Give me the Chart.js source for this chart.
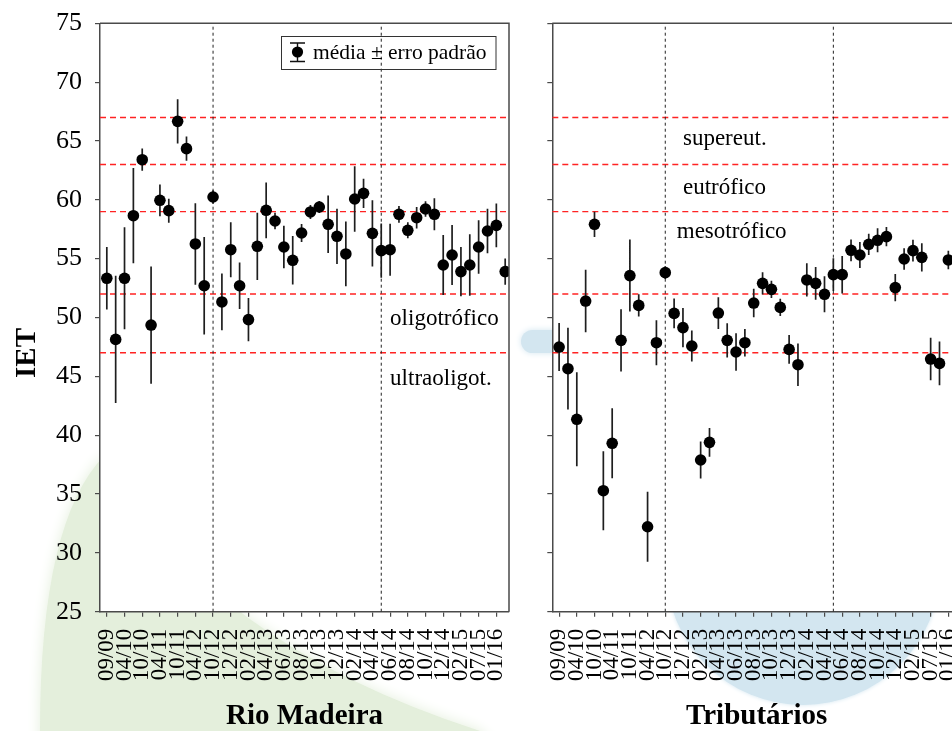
<!DOCTYPE html>
<html>
<head>
<meta charset="utf-8">
<script src="https://cdn.jsdelivr.net/npm/chart.js@4.4.1/dist/chart.umd.min.js"></script>
<style>
  html, body { margin: 0; padding: 0; background: #fff; overflow: hidden; width: 952px; height: 731px; }
  #wrap { position: relative; width: 952px; height: 731px; overflow: hidden; }
  #wrap canvas { position: absolute; top: 0; }
</style>
</head>
<body>
<div id="wrap">
  <canvas id="bg" width="952" height="731" style="left:0"></canvas>
  <canvas id="madeira" width="530" height="731" style="left:0"></canvas>
  <canvas id="trib" width="450" height="731" style="left:530px"></canvas>
</div>
<script>
// Sampling campaigns (one label every other campaign on the axis)
const campaignLabels = ['09/09','04/10','10/10','04/11','10/11','04/12','10/12','12/12','02/13','04/13','06/13',
  '08/13','10/13','12/13','02/14','04/14','06/14','08/14','10/14','12/14','02/15','07/15','01/16'];

// IET – Rio Madeira: mean and standard error per campaign
const madeiraMean = [53.33,48.14,53.33,58.65,63.41,49.36,59.96,59.08,66.67,64.35,56.25,52.70,60.24,51.32,55.76,
  52.70,49.82,56.05,59.11,58.20,55.99,54.86,57.18,58.97,59.39,57.92,56.90,55.40,60.07,60.55,57.15,55.68,55.76,
  58.77,57.41,58.48,59.22,58.77,54.46,55.31,53.90,54.46,55.99,57.35,57.83,53.90];
const madeiraSE = [2.66,5.41,4.33,4.05,0.95,4.98,1.35,1.02,1.88,1.03,3.46,4.15,0.57,2.41,2.33,1.97,1.83,2.86,2.37,
  0.71,1.80,2.06,0.77,0.60,0.51,2.44,2.35,2.75,2.78,1.25,2.81,2.30,2.21,0.71,0.68,0.91,0.65,1.36,2.54,2.55,2.10,
  2.61,2.27,1.89,1.85,1.12];

// IET – Tributários: mean and standard error per campaign
const tribMean = [47.49,45.65,41.35,51.40,57.92,35.28,39.31,48.06,53.56,51.03,32.22,47.86,53.81,50.35,49.14,47.58,
  37.89,39.39,50.38,48.06,47.07,47.86,51.23,52.90,52.39,50.86,47.29,45.99,53.19,52.90,51.97,53.64,53.64,55.71,
  55.31,56.22,56.56,56.87,52.54,54.97,55.68,55.11,46.47,46.10,54.89];
const tribSE = [2.04,3.47,3.99,2.65,1.07,3.35,2.98,2.64,3.06,0.95,2.98,1.91,0.54,1.26,1.67,1.32,1.58,1.23,1.35,1.45,
  1.59,1.17,1.21,0.95,0.74,0.74,1.22,1.81,1.41,1.39,1.53,1.39,1.59,0.92,1.11,0.90,1.02,0.82,1.16,0.91,0.92,1.20,
  1.81,1.86,0.78];

// Trophic state class limits (IET) and campaign indices separating study periods
const trophicLimits = [47, 52, 59, 63, 67];
const periodBreaks = [12, 31];

const SERIF = '"Liberation Serif", "Times New Roman", Times, serif';
const AXIS_COLOR = '#4a4a4a';
const X_MIN = -0.77, X_MAX = 45.43;
const Y_MIN = 25, Y_MAX = 75;

Chart.defaults.font.family = SERIF;
Chart.defaults.color = '#000';

// Soft logo shapes painted behind both panels
(function paintBackdrop() {
  const ctx = document.getElementById('bg').getContext('2d');
  ctx.save();
  ctx.fillStyle = '#e4efdc';
  ctx.shadowColor = '#e4efdc';
  ctx.shadowBlur = 14;
  ctx.beginPath();
  ctx.moveTo(105, 455);
  ctx.quadraticCurveTo(40, 520, 40, 731);
  ctx.lineTo(40, 780);
  ctx.lineTo(520, 780);
  ctx.lineTo(480, 731);
  ctx.quadraticCurveTo(200, 640, 105, 455);
  ctx.closePath();
  ctx.fill();
  ctx.restore();

  ctx.save();
  ctx.fillStyle = '#d3e6f0';
  ctx.shadowColor = '#d3e6f0';
  ctx.shadowBlur = 4;
  ctx.beginPath();
  ctx.arc(803, 568, 137, 0, Math.PI * 2);
  ctx.fill();
  ctx.beginPath();
  ctx.roundRect(521, 330, 120, 23, 11.5);
  ctx.shadowBlur = 6;
  ctx.fill();
  ctx.restore();
})();

// White plotting area over the backdrop
const plotBackground = {
  id: 'plotBackground',
  beforeDraw(chart) {
    const { ctx, chartArea: a } = chart;
    ctx.save();
    ctx.fillStyle = '#fff';
    ctx.fillRect(a.left, a.top, a.width, a.height);
    ctx.restore();
  }
};

// Top and right edges of the panel frame
const panelFrame = {
  id: 'panelFrame',
  afterDatasetsDraw(chart) {
    const { ctx, chartArea: a } = chart;
    ctx.save();
    ctx.strokeStyle = AXIS_COLOR;
    ctx.lineWidth = 1.5;
    ctx.beginPath();
    ctx.moveTo(a.left, a.top);
    ctx.lineTo(a.right, a.top);
    ctx.lineTo(a.right, a.bottom);
    ctx.stroke();
    ctx.restore();
  }
};

// Trophic class names, placed in data coordinates
const zoneText = {
  id: 'zoneText',
  afterDatasetsDraw(chart, args, opts) {
    const { ctx, scales: { x, y } } = chart;
    ctx.save();
    ctx.fillStyle = '#000';
    ctx.font = '23px ' + SERIF;
    ctx.textAlign = 'left';
    ctx.textBaseline = 'alphabetic';
    (opts.items || []).forEach(t => ctx.fillText(t.text, x.getPixelForValue(t.x), y.getPixelForValue(t.y)));
    ctx.restore();
  }
};

// Legend box with the mean ± standard error symbol, and the rotated y title
const sideDecor = {
  id: 'sideDecor',
  afterDraw(chart, args, opts) {
    if (!opts.enabled) return;
    const ctx = chart.ctx;
    ctx.save();
    ctx.strokeStyle = '#333';
    ctx.lineWidth = 1;
    ctx.strokeRect(281.5, 36.5, 214.5, 33);
    ctx.strokeStyle = '#111';
    ctx.lineWidth = 1.4;
    ctx.beginPath();
    ctx.moveTo(297.5, 43); ctx.lineTo(297.5, 61.5);
    ctx.moveTo(290, 43); ctx.lineTo(305, 43);
    ctx.moveTo(290, 61.5); ctx.lineTo(305, 61.5);
    ctx.stroke();
    ctx.fillStyle = '#000';
    ctx.beginPath();
    ctx.arc(297.5, 52, 5.6, 0, Math.PI * 2);
    ctx.fill();
    ctx.font = '21.5px ' + SERIF;
    ctx.textBaseline = 'alphabetic';
    ctx.fillText('média \u00b1 erro padrão', 313, 59);

    ctx.translate(35, 353);
    ctx.rotate(-Math.PI / 2);
    ctx.font = 'bold 29px ' + SERIF;
    ctx.textAlign = 'center';
    ctx.fillText('IET', 0, 0);
    ctx.restore();
  }
};

function buildPanel(canvasId, title, mean, se, yAxisWidth, rightPad, showYLabels, texts, showLegend) {
  const points = mean.map((m, i) => ({ x: i, y: m }));
  const bars = [];
  mean.forEach((m, i) => {
    bars.push({ x: i, y: m - se[i] }, { x: i, y: m + se[i] }, { x: i, y: null });
  });
  const datasets = [
    { type: 'scatter', data: points, pointRadius: 5.8, pointHoverRadius: 5.8,
      backgroundColor: '#000', borderWidth: 0, order: 0 },
    { type: 'line', data: bars, borderColor: '#1e1e1e', borderWidth: 1.7, pointRadius: 0,
      spanGaps: false, fill: false, order: 1 }
  ];
  periodBreaks.forEach(b => datasets.push({
    type: 'line', data: [{ x: b, y: Y_MIN }, { x: b, y: Y_MAX }], borderColor: '#222',
    borderWidth: 1, borderDash: [3, 3], pointRadius: 0, fill: false, order: 2
  }));
  trophicLimits.forEach(v => datasets.push({
    type: 'line', data: [{ x: X_MIN, y: v }, { x: X_MAX, y: v }], borderColor: 'rgb(255,35,35)',
    borderWidth: 1.4, borderDash: [6, 4], pointRadius: 0, fill: false, order: 3
  }));

  const tickIdx = campaignLabels.map((_, k) => k * 2);

  return new Chart(document.getElementById(canvasId), {
    type: 'scatter',
    data: { datasets },
    options: {
      responsive: false,
      animation: false,
      devicePixelRatio: 1,
      events: [],
      layout: { padding: { left: 0, right: rightPad, top: 23.3, bottom: 0 } },
      plugins: {
        legend: { display: false },
        tooltip: { enabled: false },
        zoneText: { items: texts },
        sideDecor: { enabled: showLegend }
      },
      scales: {
        x: {
          type: 'linear', min: X_MIN, max: X_MAX,
          afterBuildTicks: axis => { axis.ticks = tickIdx.map(v => ({ value: v })); },
          afterFit: axis => {
            axis.height = 731 - 611.7;
            axis.paddingLeft = 0; axis.paddingRight = 0;
            axis.paddingTop = 0; axis.paddingBottom = 0;
          },
          ticks: {
            autoSkip: false, minRotation: 90, maxRotation: 90, padding: 12,
            font: { size: 23, family: SERIF }, color: '#000',
            callback: v => campaignLabels[Math.round(v / 2)]
          },
          grid: { drawOnChartArea: false, drawTicks: true, tickLength: 5, color: AXIS_COLOR, lineWidth: 1.2 },
          border: { display: true, color: AXIS_COLOR, width: 1.5 },
          title: { display: true, text: title, color: '#000',
            font: { size: 29, weight: 'bold', family: SERIF, lineHeight: 1 }, padding: 0 }
        },
        y: {
          min: Y_MIN, max: Y_MAX,
          afterFit: axis => {
            axis.width = yAxisWidth;
            axis.paddingLeft = 0; axis.paddingRight = 0;
            axis.paddingTop = 0; axis.paddingBottom = 0;
          },
          ticks: {
            stepSize: 5, padding: 13, color: '#000',
            font: { size: 26, family: SERIF },
            callback: v => showYLabels ? String(v) : ''
          },
          grid: { drawOnChartArea: false, drawTicks: true, tickLength: 5, color: AXIS_COLOR, lineWidth: 1.2 },
          border: { display: true, color: AXIS_COLOR, width: 1.5 }
        }
      }
    },
    plugins: [plotBackground, panelFrame, zoneText, sideDecor]
  });
}

buildPanel('madeira', 'Rio Madeira', madeiraMean, madeiraSE, 100, 21, true, [
  { text: 'oligotrófico', x: 32, y: 49.37 },
  { text: 'ultraoligot.', x: 32, y: 44.27 }
], true);

buildPanel('trib', 'Tributários', tribMean, tribSE, 22.3, 19, false, [
  { text: 'supereut.', x: 14, y: 64.66 },
  { text: 'eutrófico', x: 14, y: 60.47 },
  { text: 'mesotrófico', x: 13.3, y: 56.78 }
], false);
</script>
</body>
</html>
